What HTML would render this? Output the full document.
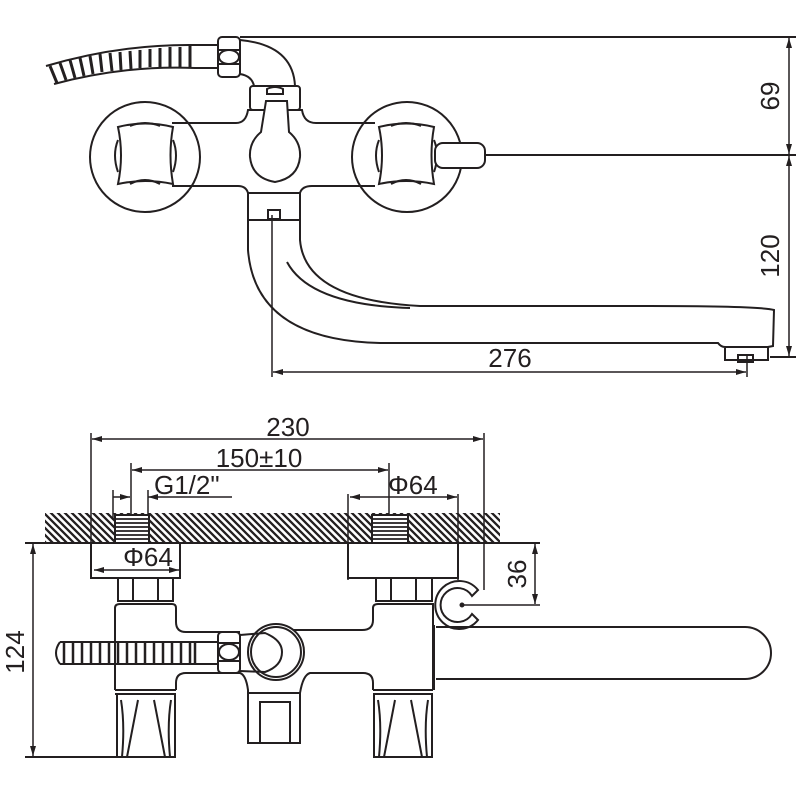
<!DOCTYPE html>
<html><head><meta charset="utf-8"><style>
html,body{margin:0;padding:0;background:#fff}
svg{display:block}
text{font-family:"Liberation Sans",sans-serif;font-size:26px;fill:#231f20}
</style></head><body>
<svg width="800" height="800" viewBox="0 0 800 800" xmlns="http://www.w3.org/2000/svg">
<defs>
<pattern id="h" width="7" height="7" patternUnits="userSpaceOnUse">
<rect width="7" height="7" fill="#fff"/><path d="M-2,-2 L9,9 M-2,5 L2,9 M5,-2 L9,2" stroke="#231f20" stroke-width="2.3"/>
</pattern>
<marker id="a" viewBox="0 0 10 6" refX="10" refY="3" markerWidth="10" markerHeight="6" orient="auto-start-reverse" markerUnits="userSpaceOnUse"><path d="M0,0 L10,3 L0,6 z" fill="#231f20"/></marker>
</defs>
<g fill="none" stroke="#231f20" stroke-width="2">

<line x1="240" y1="37" x2="796" y2="37"/>
<line x1="485" y1="155" x2="796" y2="155"/>
<line x1="770" y1="357" x2="796" y2="357"/>
<line x1="789" y1="38" x2="789" y2="154" stroke-width="1.5" marker-start="url(#a)" marker-end="url(#a)"/>
<line x1="789" y1="156" x2="789" y2="356" stroke-width="1.5" marker-start="url(#a)" marker-end="url(#a)"/>
<line x1="272" y1="215" x2="272" y2="377" stroke-width="1.5"/>
<line x1="747" y1="356" x2="747" y2="377" stroke-width="1.5"/>
<line x1="273" y1="372" x2="746" y2="372" stroke-width="1.5" marker-start="url(#a)" marker-end="url(#a)"/>

<path d="M46,66 Q120,44 195,45 L218,45 M54,84 Q125,65 195,68 L218,68"/>
<g stroke-width="3">
<path d="M50,66 L57,83 M60,63 L66,80 M70,60 L75,78 M80,58 L84,76 M90,56 L93,74 M100,54 L102,72 M110,53 L112,71 M120,52 L121,70 M130,51 L131,69 M140,50 L140,68 M150,49 L150,67 M160,48 L160,67 M170,47 L170,67 M180,47 L180,67 M190,46 L190,67"/>
</g>
<rect x="218" y="37" width="22" height="40" rx="4" fill="#fff"/>
<ellipse cx="229" cy="57" rx="10" ry="7"/>
<line x1="219" y1="50" x2="239" y2="50"/><line x1="219" y1="64" x2="239" y2="64"/>
<path d="M240,40 Q293,45 295,86"/>
<path d="M240,74 Q252,76 254,86"/>
<circle cx="145" cy="157" r="55" fill="#fff"/>
<circle cx="407" cy="157" r="55" fill="#fff"/>
<path d="M172,123 L236,123 Q246,123 248,110 L302,110 Q304,123 316,123 L375,123 M172,186 L238,186 Q246,186 248,193 L300,193 Q302,186 312,186 L375,186" fill="none"/>
<rect x="250" y="86" width="50" height="24" rx="3" fill="#fff"/>
<path d="M267,94 L267,89 Q275,85 283,89 L283,94 Z"/>
<path d="M266,101 L287,101 L289,132 Q301,142 300,157 Q298,178 275,182 Q252,178 250,157 Q249,142 261,132 Z" fill="#fff"/>
<path d="M118,127 Q145,120 173,127 Q168,155 173,184 Q145,178 118,184 Q124,155 118,127 Z" fill="#fff"/>
<path d="M118,140 Q112,155 118,172 M173,140 Q179,155 173,172 M130,184 Q145,176 160,184 M130,126 Q145,120 160,126"/>
<path d="M379,127 Q406,120 434,127 Q429,155 434,184 Q406,178 379,184 Q385,155 379,127 Z" fill="#fff"/>
<path d="M379,140 Q373,155 379,172 M434,140 Q440,155 434,172 M391,184 Q406,176 421,184 M391,126 Q406,120 421,126"/>
<rect x="435" y="143" width="50" height="25" rx="8" fill="#fff"/>
<rect x="248" y="193" width="52" height="27"/>
<rect x="268" y="210" width="12" height="9"/>
<path d="M248,220 L248,250 Q255,340 380,343 L718,343 Q721,347 725,347 L725,360 L768,360 L768,347 L773,346 L774,310 Q760,306 650,306 L420,306 Q305,300 300,240 L300,220"/>
<path d="M287,262 Q310,305 410,308"/>
<line x1="725" y1="347" x2="768" y2="347"/>
<rect x="738" y="355" width="15" height="7"/>

<rect x="45" y="513" width="455" height="30" fill="url(#h)" stroke="none"/>
<line x1="25" y1="543" x2="540" y2="543"/>
<g stroke-width="1.5">
<line x1="91" y1="433" x2="91" y2="578"/>
<line x1="484" y1="433" x2="484" y2="590"/>
<line x1="92" y1="439" x2="483" y2="439" marker-start="url(#a)" marker-end="url(#a)"/>
<line x1="131" y1="463" x2="131" y2="520"/>
<line x1="389" y1="463" x2="389" y2="520"/>
<line x1="132" y1="470" x2="388" y2="470" marker-start="url(#a)" marker-end="url(#a)"/>
<line x1="113" y1="490" x2="113" y2="520"/>
<line x1="148" y1="490" x2="148" y2="520"/>
<line x1="113" y1="497" x2="130" y2="497" marker-end="url(#a)"/>
<line x1="148" y1="497" x2="232" y2="497" marker-start="url(#a)"/>
<line x1="350" y1="497" x2="457" y2="497" marker-start="url(#a)" marker-end="url(#a)"/>
<line x1="458" y1="494" x2="458" y2="580"/>
<line x1="348" y1="494" x2="348" y2="580"/>
<line x1="94" y1="570" x2="179" y2="570" marker-start="url(#a)" marker-end="url(#a)"/>
<line x1="535" y1="544" x2="535" y2="604" marker-start="url(#a)" marker-end="url(#a)"/>
<line x1="462" y1="605" x2="540" y2="605"/>
<line x1="33" y1="544" x2="33" y2="756" marker-start="url(#a)" marker-end="url(#a)"/>
</g>
<line x1="25" y1="757" x2="176" y2="757"/>
<path d="M91,543 L91,578 L180,578 L180,543"/>
<path d="M348,543 L348,578 L458,578 L458,543"/>
<rect x="115" y="515" width="34" height="28" fill="#fff"/>
<path d="M115,519 H149 M115,523 H149 M115,527 H149 M115,531 H149 M115,535 H149 M115,539 H149" stroke-width="1.8"/>
<rect x="372" y="515" width="36" height="28" fill="#fff"/>
<path d="M372,519 H408 M372,523 H408 M372,527 H408 M372,531 H408 M372,535 H408 M372,539 H408" stroke-width="1.8"/>
<rect x="118" y="578" width="55" height="23"/><path d="M133,578 V601 M158,578 V601"/>
<rect x="376" y="578" width="56" height="23"/><path d="M391,578 V601 M416,578 V601"/>
<path d="M115,690 L115,608 Q115,604 120,604 L172,604 Q176,604 176,608 L176,622 Q176,632 186,632 L240,632"/>
<path d="M290,630 L362,630 Q373,630 373,620 L373,608 Q373,604 378,604 L433,604 L433,690"/>
<path d="M176,690 L176,683 Q176,673 186,673 L240,673 Q246,675 248,690 L248,693 M300,693 Q303,675 310,673 L363,673 Q373,673 373,683 L373,690"/>
<path d="M115,690 L176,690 M373,690 L433,690 M115,694 L176,694 M373,694 L433,694 M248,693 L300,693"/>
<path d="M478,590 A24,24 0 1 0 478,620 L472,614 A17,17 0 1 1 472,596 Z" fill="#fff"/>
<circle cx="462" cy="605" r="1.5" fill="#231f20"/>
<path d="M436,627 L745,627 A26,26 0 0 1 745,679 L436,679"/>
<line x1="434" y1="625" x2="434" y2="690"/>
<path d="M60,642 L218,642 M60,664 L218,664 M60,642 Q52,653 60,664"/>
<path d="M64,642 V664 M73,642 V664 M82,642 V664 M91,642 V664 M100,642 V664 M109,642 V664 M118,642 V664 M127,642 V664 M136,642 V664 M145,642 V664 M154,642 V664 M163,642 V664 M172,642 V664 M181,642 V664 M190,642 V664 M195,642 V664" stroke-width="2.5"/>
<rect x="218" y="632" width="22" height="41" rx="4" fill="#fff"/>
<ellipse cx="229" cy="652" rx="10" ry="8"/>
<line x1="219" y1="643" x2="239" y2="643"/><line x1="219" y1="661" x2="239" y2="661"/>
<circle cx="276" cy="652" r="28" fill="#fff"/>
<circle cx="276" cy="652" r="25"/>
<path d="M240,635 L265,633 Q282,640 282,652 Q282,666 265,672 L240,671"/>
<path d="M248,693 L248,743 L300,743 L300,693"/>
<rect x="260" y="702" width="30" height="41"/>
<rect x="117" y="694" width="58" height="63"/>
<path d="M121,700 Q125,725 122,757 M171,700 Q167,725 170,757 M138,700 L127,757 M154,700 L165,757"/>
<rect x="374" y="694" width="58" height="63"/>
<path d="M378,700 Q382,725 379,757 M428,700 Q424,725 427,757 M395,700 L384,757 M411,700 L422,757"/>
</g>

<text x="510" y="367" text-anchor="middle">276</text>
<text transform="translate(779,96) rotate(-90)" text-anchor="middle">69</text>
<text transform="translate(779,256) rotate(-90)" text-anchor="middle">120</text>
<text x="288" y="436" text-anchor="middle">230</text>
<text x="259" y="467" text-anchor="middle">150±10</text>
<text x="154" y="494">G1/2"</text>
<text x="388" y="494">Φ64</text>
<text x="148" y="566" text-anchor="middle">Φ64</text>
<text transform="translate(526,574) rotate(-90)" text-anchor="middle">36</text>
<text transform="translate(24,652) rotate(-90)" text-anchor="middle">124</text>
</svg>
</body></html>
